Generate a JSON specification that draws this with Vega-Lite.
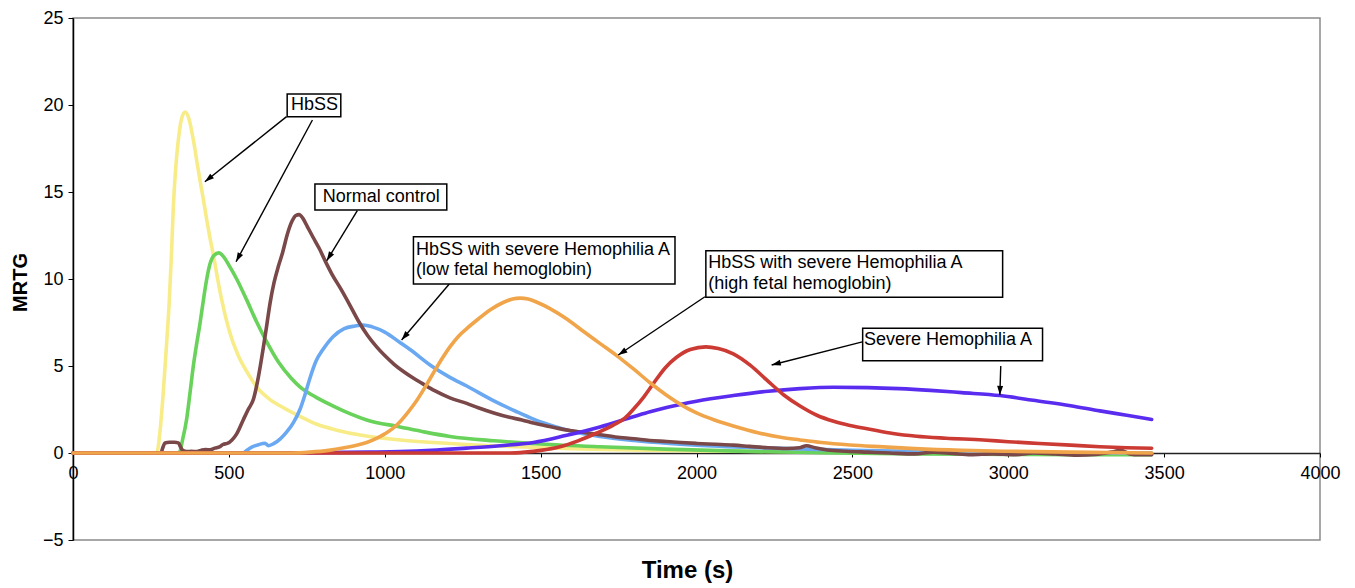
{
  "$schema": "https://vega.github.io/schema/vega-lite/v6.json",
  "width": 1247,
  "height": 522,
  "autosize": {"type": "none"},
  "padding": {"left": 73, "top": 18, "right": 35, "bottom": 48},
  "background": "white",
  "config": {
    "view": {"stroke": "#8a8a8a", "strokeWidth": 1.5},
    "font": "Liberation Sans"
  },
  "datasets": {
    "curves": [
      {"s":"HbSS a","t":0,"v":0},{"s":"HbSS a","t":200,"v":0},{"s":"HbSS a","t":268,"v":0},{"s":"HbSS a","t":280,"v":1.4},{"s":"HbSS a","t":290,"v":3.6},{"s":"HbSS a","t":300,"v":6.2},{"s":"HbSS a","t":309,"v":8.8},{"s":"HbSS a","t":316,"v":11.5},{"s":"HbSS a","t":322,"v":14.2},{"s":"HbSS a","t":330,"v":16.5},{"s":"HbSS a","t":338,"v":18.0},{"s":"HbSS a","t":348,"v":19.2},{"s":"HbSS a","t":360,"v":19.6},{"s":"HbSS a","t":372,"v":19.2},{"s":"HbSS a","t":386,"v":18.0},{"s":"HbSS a","t":397,"v":16.8},{"s":"HbSS a","t":407,"v":15.7},{"s":"HbSS a","t":418,"v":14.6},{"s":"HbSS a","t":429,"v":13.4},{"s":"HbSS a","t":440,"v":12.3},{"s":"HbSS a","t":450,"v":11.4},{"s":"HbSS a","t":463,"v":10.1},{"s":"HbSS a","t":477,"v":8.8},{"s":"HbSS a","t":500,"v":7.1},{"s":"HbSS a","t":530,"v":5.6},{"s":"HbSS a","t":560,"v":4.6},{"s":"HbSS a","t":589,"v":3.8},{"s":"HbSS a","t":630,"v":3.1},{"s":"HbSS a","t":675,"v":2.6},{"s":"HbSS a","t":728,"v":2.1},{"s":"HbSS a","t":782,"v":1.65},{"s":"HbSS a","t":850,"v":1.3},{"s":"HbSS a","t":931,"v":1.0},{"s":"HbSS a","t":1050,"v":0.75},{"s":"HbSS a","t":1209,"v":0.55},{"s":"HbSS a","t":1400,"v":0.38},{"s":"HbSS a","t":1600,"v":0.25},{"s":"HbSS a","t":2000,"v":0.12},{"s":"HbSS a","t":2500,"v":0.05},{"s":"HbSS a","t":3000,"v":0.0},{"s":"HbSS a","t":3460,"v":0.0},
      {"s":"HbSS b","t":0,"v":0},{"s":"HbSS b","t":200,"v":0},{"s":"HbSS b","t":340,"v":0},{"s":"HbSS b","t":352,"v":0.8},{"s":"HbSS b","t":365,"v":2.0},{"s":"HbSS b","t":375,"v":3.4},{"s":"HbSS b","t":386,"v":5.0},{"s":"HbSS b","t":396,"v":6.2},{"s":"HbSS b","t":407,"v":7.4},{"s":"HbSS b","t":420,"v":9.0},{"s":"HbSS b","t":430,"v":10.1},{"s":"HbSS b","t":440,"v":10.9},{"s":"HbSS b","t":452,"v":11.35},{"s":"HbSS b","t":468,"v":11.5},{"s":"HbSS b","t":482,"v":11.3},{"s":"HbSS b","t":500,"v":10.8},{"s":"HbSS b","t":525,"v":10.0},{"s":"HbSS b","t":557,"v":8.8},{"s":"HbSS b","t":590,"v":7.5},{"s":"HbSS b","t":621,"v":6.4},{"s":"HbSS b","t":660,"v":5.2},{"s":"HbSS b","t":700,"v":4.3},{"s":"HbSS b","t":728,"v":3.8},{"s":"HbSS b","t":780,"v":3.2},{"s":"HbSS b","t":835,"v":2.7},{"s":"HbSS b","t":890,"v":2.25},{"s":"HbSS b","t":942,"v":1.9},{"s":"HbSS b","t":1049,"v":1.5},{"s":"HbSS b","t":1130,"v":1.2},{"s":"HbSS b","t":1209,"v":0.95},{"s":"HbSS b","t":1350,"v":0.7},{"s":"HbSS b","t":1500,"v":0.52},{"s":"HbSS b","t":1690,"v":0.36},{"s":"HbSS b","t":1900,"v":0.22},{"s":"HbSS b","t":2100,"v":0.12},{"s":"HbSS b","t":2400,"v":0.02},{"s":"HbSS b","t":2700,"v":-0.05},{"s":"HbSS b","t":3000,"v":-0.08},{"s":"HbSS b","t":3200,"v":-0.1},{"s":"HbSS b","t":3460,"v":-0.1},
      {"s":"Low HbF","t":0,"v":0},{"s":"Low HbF","t":300,"v":0},{"s":"Low HbF","t":545,"v":0},{"s":"Low HbF","t":557,"v":0.15},{"s":"Low HbF","t":575,"v":0.35},{"s":"Low HbF","t":595,"v":0.48},{"s":"Low HbF","t":616,"v":0.56},{"s":"Low HbF","t":627,"v":0.42},{"s":"Low HbF","t":645,"v":0.55},{"s":"Low HbF","t":664,"v":0.8},{"s":"Low HbF","t":685,"v":1.2},{"s":"Low HbF","t":707,"v":1.75},{"s":"Low HbF","t":728,"v":2.5},{"s":"Low HbF","t":745,"v":3.4},{"s":"Low HbF","t":760,"v":4.3},{"s":"Low HbF","t":780,"v":5.3},{"s":"Low HbF","t":800,"v":5.9},{"s":"Low HbF","t":835,"v":6.7},{"s":"Low HbF","t":870,"v":7.15},{"s":"Low HbF","t":905,"v":7.3},{"s":"Low HbF","t":931,"v":7.36},{"s":"Low HbF","t":960,"v":7.25},{"s":"Low HbF","t":1000,"v":6.95},{"s":"Low HbF","t":1049,"v":6.35},{"s":"Low HbF","t":1081,"v":5.95},{"s":"Low HbF","t":1150,"v":5.0},{"s":"Low HbF","t":1209,"v":4.35},{"s":"Low HbF","t":1263,"v":3.85},{"s":"Low HbF","t":1350,"v":3.0},{"s":"Low HbF","t":1420,"v":2.4},{"s":"Low HbF","t":1477,"v":1.95},{"s":"Low HbF","t":1550,"v":1.5},{"s":"Low HbF","t":1600,"v":1.25},{"s":"Low HbF","t":1690,"v":0.95},{"s":"Low HbF","t":1800,"v":0.72},{"s":"Low HbF","t":1904,"v":0.56},{"s":"Low HbF","t":2000,"v":0.45},{"s":"Low HbF","t":2200,"v":0.3},{"s":"Low HbF","t":2500,"v":0.15},{"s":"Low HbF","t":2800,"v":0.05},{"s":"Low HbF","t":3100,"v":0.0},{"s":"Low HbF","t":3460,"v":0.0},
      {"s":"Normal","t":0,"v":0},{"s":"Normal","t":200,"v":0},{"s":"Normal","t":282,"v":0},{"s":"Normal","t":288,"v":0.3},{"s":"Normal","t":295,"v":0.58},{"s":"Normal","t":310,"v":0.62},{"s":"Normal","t":325,"v":0.62},{"s":"Normal","t":338,"v":0.58},{"s":"Normal","t":345,"v":0.35},{"s":"Normal","t":352,"v":0.15},{"s":"Normal","t":365,"v":0.08},{"s":"Normal","t":380,"v":0.1},{"s":"Normal","t":395,"v":0.08},{"s":"Normal","t":410,"v":0.15},{"s":"Normal","t":425,"v":0.2},{"s":"Normal","t":440,"v":0.18},{"s":"Normal","t":455,"v":0.28},{"s":"Normal","t":470,"v":0.35},{"s":"Normal","t":482,"v":0.5},{"s":"Normal","t":495,"v":0.55},{"s":"Normal","t":510,"v":0.75},{"s":"Normal","t":525,"v":1.1},{"s":"Normal","t":546,"v":1.9},{"s":"Normal","t":562,"v":2.5},{"s":"Normal","t":579,"v":3.1},{"s":"Normal","t":595,"v":4.4},{"s":"Normal","t":610,"v":6.0},{"s":"Normal","t":622,"v":7.4},{"s":"Normal","t":632,"v":8.6},{"s":"Normal","t":645,"v":9.8},{"s":"Normal","t":660,"v":10.8},{"s":"Normal","t":672,"v":11.5},{"s":"Normal","t":688,"v":12.6},{"s":"Normal","t":702,"v":13.3},{"s":"Normal","t":715,"v":13.65},{"s":"Normal","t":725,"v":13.7},{"s":"Normal","t":737,"v":13.5},{"s":"Normal","t":752,"v":13.0},{"s":"Normal","t":770,"v":12.4},{"s":"Normal","t":790,"v":11.75},{"s":"Normal","t":810,"v":11.0},{"s":"Normal","t":830,"v":10.3},{"s":"Normal","t":860,"v":9.4},{"s":"Normal","t":888,"v":8.5},{"s":"Normal","t":915,"v":7.6},{"s":"Normal","t":945,"v":6.75},{"s":"Normal","t":974,"v":6.1},{"s":"Normal","t":1000,"v":5.6},{"s":"Normal","t":1030,"v":5.1},{"s":"Normal","t":1060,"v":4.68},{"s":"Normal","t":1090,"v":4.32},{"s":"Normal","t":1120,"v":4.0},{"s":"Normal","t":1160,"v":3.58},{"s":"Normal","t":1209,"v":3.17},{"s":"Normal","t":1263,"v":2.85},{"s":"Normal","t":1300,"v":2.6},{"s":"Normal","t":1350,"v":2.3},{"s":"Normal","t":1400,"v":2.05},{"s":"Normal","t":1440,"v":1.9},{"s":"Normal","t":1477,"v":1.72},{"s":"Normal","t":1520,"v":1.55},{"s":"Normal","t":1560,"v":1.4},{"s":"Normal","t":1600,"v":1.28},{"s":"Normal","t":1650,"v":1.15},{"s":"Normal","t":1690,"v":1.05},{"s":"Normal","t":1740,"v":0.92},{"s":"Normal","t":1800,"v":0.82},{"s":"Normal","t":1850,"v":0.72},{"s":"Normal","t":1904,"v":0.66},{"s":"Normal","t":1950,"v":0.6},{"s":"Normal","t":2000,"v":0.55},{"s":"Normal","t":2060,"v":0.5},{"s":"Normal","t":2118,"v":0.45},{"s":"Normal","t":2170,"v":0.38},{"s":"Normal","t":2230,"v":0.3},{"s":"Normal","t":2290,"v":0.26},{"s":"Normal","t":2330,"v":0.3},{"s":"Normal","t":2353,"v":0.42},{"s":"Normal","t":2380,"v":0.3},{"s":"Normal","t":2420,"v":0.17},{"s":"Normal","t":2480,"v":0.1},{"s":"Normal","t":2550,"v":0.05},{"s":"Normal","t":2620,"v":0.0},{"s":"Normal","t":2700,"v":-0.05},{"s":"Normal","t":2760,"v":0.05},{"s":"Normal","t":2820,"v":-0.02},{"s":"Normal","t":2880,"v":-0.1},{"s":"Normal","t":2950,"v":-0.05},{"s":"Normal","t":3020,"v":-0.1},{"s":"Normal","t":3080,"v":0.0},{"s":"Normal","t":3150,"v":-0.05},{"s":"Normal","t":3220,"v":-0.12},{"s":"Normal","t":3280,"v":-0.08},{"s":"Normal","t":3330,"v":0.05},{"s":"Normal","t":3360,"v":0.15},{"s":"Normal","t":3390,"v":-0.05},{"s":"Normal","t":3420,"v":-0.1},{"s":"Normal","t":3460,"v":-0.1},
      {"s":"Severe A","t":0,"v":0},{"s":"Severe A","t":600,"v":0},{"s":"Severe A","t":800,"v":0.02},{"s":"Severe A","t":950,"v":0.05},{"s":"Severe A","t":1049,"v":0.08},{"s":"Severe A","t":1150,"v":0.15},{"s":"Severe A","t":1262,"v":0.28},{"s":"Severe A","t":1370,"v":0.42},{"s":"Severe A","t":1477,"v":0.6},{"s":"Severe A","t":1580,"v":1.0},{"s":"Severe A","t":1690,"v":1.5},{"s":"Severe A","t":1800,"v":2.1},{"s":"Severe A","t":1851,"v":2.37},{"s":"Severe A","t":1904,"v":2.62},{"s":"Severe A","t":2000,"v":2.98},{"s":"Severe A","t":2118,"v":3.3},{"s":"Severe A","t":2230,"v":3.55},{"s":"Severe A","t":2332,"v":3.7},{"s":"Severe A","t":2439,"v":3.78},{"s":"Severe A","t":2550,"v":3.76},{"s":"Severe A","t":2650,"v":3.7},{"s":"Severe A","t":2750,"v":3.6},{"s":"Severe A","t":2850,"v":3.47},{"s":"Severe A","t":2974,"v":3.3},{"s":"Severe A","t":3080,"v":3.03},{"s":"Severe A","t":3200,"v":2.72},{"s":"Severe A","t":3294,"v":2.42},{"s":"Severe A","t":3380,"v":2.17},{"s":"Severe A","t":3460,"v":1.93},
      {"s":"Severe B","t":0,"v":0},{"s":"Severe B","t":1000,"v":0},{"s":"Severe B","t":1400,"v":0},{"s":"Severe B","t":1450,"v":0.05},{"s":"Severe B","t":1500,"v":0.15},{"s":"Severe B","t":1562,"v":0.36},{"s":"Severe B","t":1620,"v":0.7},{"s":"Severe B","t":1680,"v":1.15},{"s":"Severe B","t":1733,"v":1.6},{"s":"Severe B","t":1770,"v":2.0},{"s":"Severe B","t":1797,"v":2.5},{"s":"Severe B","t":1830,"v":3.2},{"s":"Severe B","t":1862,"v":4.0},{"s":"Severe B","t":1900,"v":4.9},{"s":"Severe B","t":1936,"v":5.5},{"s":"Severe B","t":1980,"v":5.95},{"s":"Severe B","t":2030,"v":6.1},{"s":"Severe B","t":2070,"v":6.0},{"s":"Severe B","t":2118,"v":5.7},{"s":"Severe B","t":2172,"v":5.05},{"s":"Severe B","t":2225,"v":4.2},{"s":"Severe B","t":2279,"v":3.35},{"s":"Severe B","t":2332,"v":2.7},{"s":"Severe B","t":2386,"v":2.17},{"s":"Severe B","t":2440,"v":1.82},{"s":"Severe B","t":2492,"v":1.58},{"s":"Severe B","t":2560,"v":1.35},{"s":"Severe B","t":2630,"v":1.12},{"s":"Severe B","t":2706,"v":0.96},{"s":"Severe B","t":2800,"v":0.85},{"s":"Severe B","t":2920,"v":0.75},{"s":"Severe B","t":3000,"v":0.65},{"s":"Severe B","t":3100,"v":0.55},{"s":"Severe B","t":3200,"v":0.45},{"s":"Severe B","t":3294,"v":0.36},{"s":"Severe B","t":3380,"v":0.3},{"s":"Severe B","t":3460,"v":0.27},
      {"s":"High HbF","t":0,"v":0},{"s":"High HbF","t":300,"v":0},{"s":"High HbF","t":700,"v":0},{"s":"High HbF","t":760,"v":0.05},{"s":"High HbF","t":820,"v":0.15},{"s":"High HbF","t":870,"v":0.3},{"s":"High HbF","t":910,"v":0.45},{"s":"High HbF","t":942,"v":0.6},{"s":"High HbF","t":975,"v":0.85},{"s":"High HbF","t":1000,"v":1.1},{"s":"High HbF","t":1025,"v":1.4},{"s":"High HbF","t":1049,"v":1.8},{"s":"High HbF","t":1075,"v":2.35},{"s":"High HbF","t":1102,"v":3.0},{"s":"High HbF","t":1130,"v":3.8},{"s":"High HbF","t":1156,"v":4.6},{"s":"High HbF","t":1183,"v":5.4},{"s":"High HbF","t":1209,"v":6.1},{"s":"High HbF","t":1236,"v":6.7},{"s":"High HbF","t":1263,"v":7.15},{"s":"High HbF","t":1300,"v":7.7},{"s":"High HbF","t":1340,"v":8.25},{"s":"High HbF","t":1380,"v":8.65},{"s":"High HbF","t":1410,"v":8.85},{"s":"High HbF","t":1434,"v":8.9},{"s":"High HbF","t":1460,"v":8.85},{"s":"High HbF","t":1490,"v":8.65},{"s":"High HbF","t":1530,"v":8.3},{"s":"High HbF","t":1584,"v":7.7},{"s":"High HbF","t":1640,"v":6.95},{"s":"High HbF","t":1690,"v":6.3},{"s":"High HbF","t":1744,"v":5.6},{"s":"High HbF","t":1800,"v":4.8},{"s":"High HbF","t":1850,"v":4.05},{"s":"High HbF","t":1904,"v":3.32},{"s":"High HbF","t":1950,"v":2.78},{"s":"High HbF","t":2000,"v":2.3},{"s":"High HbF","t":2060,"v":1.88},{"s":"High HbF","t":2118,"v":1.55},{"s":"High HbF","t":2200,"v":1.15},{"s":"High HbF","t":2270,"v":0.9},{"s":"High HbF","t":2332,"v":0.75},{"s":"High HbF","t":2400,"v":0.6},{"s":"High HbF","t":2492,"v":0.46},{"s":"High HbF","t":2600,"v":0.35},{"s":"High HbF","t":2700,"v":0.25},{"s":"High HbF","t":2850,"v":0.15},{"s":"High HbF","t":3000,"v":0.1},{"s":"High HbF","t":3200,"v":0.05},{"s":"High HbF","t":3460,"v":0.0}
    ],
    "arrows": [
      {"x1":685,"y1":19.33,"x2":423,"y2":15.59},
      {"x1":768,"y1":19.14,"x2":523,"y2":10.99},
      {"x1":912,"y1":13.93,"x2":814,"y2":11.05},
      {"x1":1207,"y1":9.71,"x2":1054,"y2":6.49},
      {"x1":2027,"y1":8.98,"x2":1749,"y2":5.63},
      {"x1":2535,"y1":6.4,"x2":2241,"y2":5.06},
      {"x1":2976,"y1":5.0,"x2":2973,"y2":3.33}
    ],
    "boxes": [
      {"bx1":687,"bx2":859,"by1":19.33,"by2":20.63},
      {"bx1":776,"bx2":1199,"by1":13.97,"by2":15.46},
      {"bx1":1092,"bx2":1931,"by1":9.71,"by2":12.43},
      {"bx1":2030,"bx2":2982,"by1":8.95,"by2":11.63},
      {"bx1":2533,"bx2":3110,"by1":5.3,"by2":7.17}
    ],
    "labels": [
      {"label":"HbSS","lx":699,"ly":20.0},
      {"label":"Normal control","lx":801,"ly":14.71},
      {"label":"HbSS with severe Hemophilia A","lx":1100,"ly":11.67},
      {"label":"(low fetal hemoglobin)","lx":1100,"ly":10.52},
      {"label":"HbSS with severe Hemophilia A","lx":2038,"ly":10.9},
      {"label":"(high fetal hemoglobin)","lx":2038,"ly":9.71},
      {"label":"Severe Hemophilia A","lx":2537,"ly":6.49}
    ]
  },
  "layer": [
    {
      "data": {"name": "curves"},
      "mark": {"type": "line", "interpolate": "monotone", "strokeWidth": 3.6, "strokeCap": "round", "strokeJoin": "round"},
      "encoding": {
        "x": {
          "field": "t", "type": "quantitative",
          "scale": {"domain": [0, 4000], "nice": false, "zero": false},
          "axis": {
            "title": "Time (s)",
            "values": [0, 500, 1000, 1500, 2000, 2500, 3000, 3500, 4000],
            "format": "d",
            "offset": -87,
            "grid": false,
            "labelFlush": false,
            "labelOverlap": false,
            "labelFont": "Liberation Sans",
            "labelFontSize": 18,
            "labelColor": "#000",
            "labelPadding": 7,
            "tickSize": 4,
            "tickColor": "#000",
            "domainColor": "#222",
            "domainWidth": 1.5,
            "titleFont": "Liberation Sans",
            "titleFontSize": 24,
            "titleFontWeight": "bold",
            "titleColor": "#000",
            "titleX": 614,
            "titleY": 124,
            "titleAlign": "center",
            "titleBaseline": "alphabetic"
          }
        },
        "y": {
          "field": "v", "type": "quantitative",
          "scale": {"domain": [-5, 25], "nice": false, "zero": false},
          "axis": {
            "title": "MRTG",
            "values": [-5, 0, 5, 10, 15, 20, 25],
            "grid": false,
            "labelFont": "Liberation Sans",
            "labelFontSize": 18,
            "labelColor": "#000",
            "labelPadding": 5,
            "tickSize": 5,
            "tickColor": "#000",
            "domainColor": "#000",
            "domainWidth": 1.5,
            "titleFont": "Liberation Sans",
            "titleFontSize": 20,
            "titleFontWeight": "bold",
            "titleColor": "#000",
            "titleAngle": -90,
            "titleX": -47,
            "titleY": 264,
            "titleAlign": "center",
            "titleBaseline": "alphabetic"
          }
        },
        "color": {
          "field": "s", "type": "nominal", "legend": null,
          "scale": {
            "domain": ["HbSS a", "HbSS b", "Low HbF", "Normal", "Severe A", "Severe B", "High HbF"],
            "range": ["#f8ec88", "#68d25a", "#6aa9f2", "#7a4848", "#5a2cf0", "#cc3a34", "#f1a54b"]
          }
        }
      }
    },
    {
      "data": {"name": "arrows"},
      "mark": {"type": "rule", "color": "#000", "strokeWidth": 1.4},
      "encoding": {
        "x": {"field": "x1", "type": "quantitative", "axis": {"title": "Time (s)"}},
        "y": {"field": "y1", "type": "quantitative", "axis": {"title": "MRTG"}},
        "x2": {"field": "x2"},
        "y2": {"field": "y2"}
      }
    },
    {
      "data": {"name": "arrows"},
      "transform": [
        {"calculate": "atan2((datum.x2 - datum.x1) * 0.31175, (datum.y2 - datum.y1) * 17.4) * 180 / PI", "as": "ang"}
      ],
      "mark": {"type": "point", "shape": "M0,0L-0.75,2.3L0.75,2.3Z", "filled": true, "color": "#000", "opacity": 1, "size": 64},
      "encoding": {
        "x": {"field": "x2", "type": "quantitative", "axis": {"title": "Time (s)"}},
        "y": {"field": "y2", "type": "quantitative", "axis": {"title": "MRTG"}},
        "angle": {"field": "ang", "type": "quantitative", "scale": null}
      }
    },
    {
      "data": {"name": "boxes"},
      "mark": {"type": "rect", "fill": "#fff", "stroke": "#000", "strokeWidth": 1.5},
      "encoding": {
        "x": {"field": "bx1", "type": "quantitative", "axis": {"title": "Time (s)"}},
        "x2": {"field": "bx2"},
        "y": {"field": "by1", "type": "quantitative", "axis": {"title": "MRTG"}},
        "y2": {"field": "by2"}
      }
    },
    {
      "data": {"name": "labels"},
      "mark": {"type": "text", "align": "left", "baseline": "middle", "font": "Liberation Sans", "fontSize": 18, "color": "#000"},
      "encoding": {
        "x": {"field": "lx", "type": "quantitative", "axis": {"title": "Time (s)"}},
        "y": {"field": "ly", "type": "quantitative", "axis": {"title": "MRTG"}},
        "text": {"field": "label"}
      }
    }
  ]
}
